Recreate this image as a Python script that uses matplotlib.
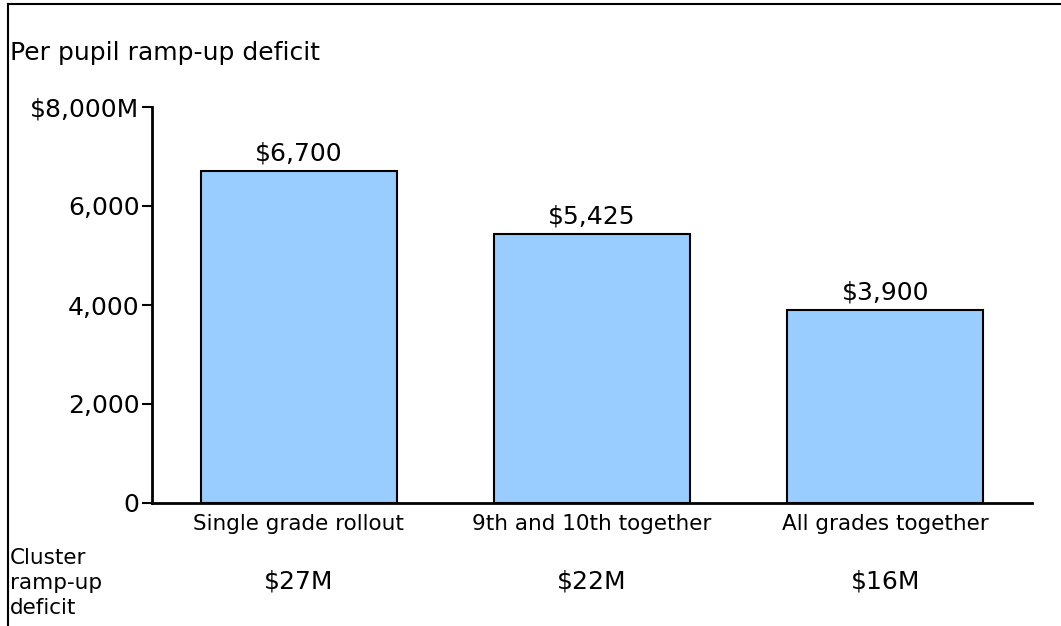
import numpy as np
import matplotlib.pyplot as plt
from matplotlib.lines import Line2D
from matplotlib.transforms import blended_transform_factory

# per pupil deficit by rollout option
categories = ["Single grade rollout", "9th and 10th together", "All grades together"]
per_pupil = [6700, 5425, 3900]
cluster_deficit = ["$27M", "$22M", "$16M"]
yticks = [0, 2000, 4000, 6000, 8000]
ytick_labels = ["0", "2,000", "4,000", "6,000", "$8,000M"]

plt.rcParams['font.family'] = ['Verdana', 'DejaVu Sans']

fig = plt.figure(figsize=(10.61, 6.26), dpi=100)
ax = fig.add_axes([152/1061, 1-503/626, 880/1061, 396/626])

x = np.arange(len(categories))
bars = ax.bar(x, per_pupil, width=0.668, color="#99ccff", edgecolor="black", linewidth=1.5)

for xi, v in zip(x, per_pupil):
    ax.text(xi, v + 120, f"${v:,}", ha="center", va="bottom", fontsize=18)

ax.set_xlim(-0.5, 2.5)
ax.set_ylim(0, 8000)
ax.set_yticks(yticks)
ax.set_yticklabels(ytick_labels, fontsize=18)
ax.set_xticks(x)
ax.set_xticklabels(categories, fontsize=15.5)
ax.tick_params(axis="x", length=0, pad=8)
ax.tick_params(axis="y", length=7, width=1.5, pad=2)

for s in ["top", "right"]:
    ax.spines[s].set_visible(False)
for s in ["left", "bottom"]:
    ax.spines[s].set_linewidth(2)

# cluster-level deficit row under the axis
trans = blended_transform_factory(ax.transData, fig.transFigure)
for xi, lab in zip(x, cluster_deficit):
    ax.text(xi, 1-582/626, lab, transform=trans, ha="center", va="center", fontsize=18)
fig.text(10/1061, 1-583/626, "Cluster\nramp-up\ndeficit", ha="left", va="center",
         fontsize=15.5, linespacing=1.3)

fig.text(10/1061, 1-53/626, "Per pupil ramp-up deficit", ha="left", va="center", fontsize=18)

# frame lines on top and left
fig.add_artist(Line2D([8/1061, 1], [1-4/626, 1-4/626], color="black", lw=1.5, transform=fig.transFigure))
fig.add_artist(Line2D([8/1061, 8/1061], [0, 1-4/626], color="black", lw=1.5, transform=fig.transFigure))

fig.savefig("out.png", dpi=100)
